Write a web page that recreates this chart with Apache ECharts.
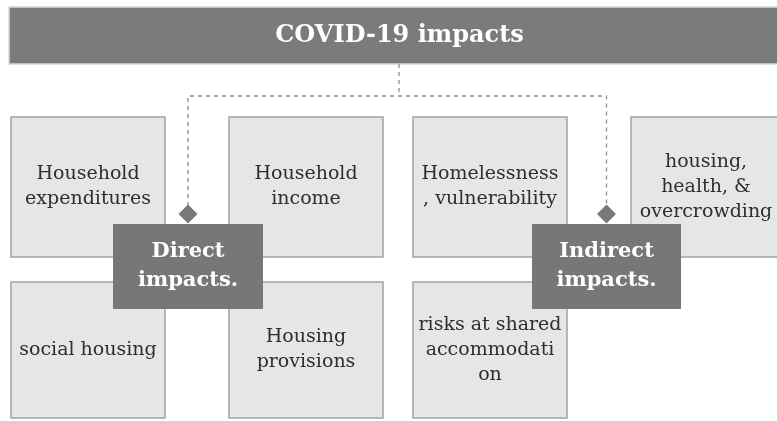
<!DOCTYPE html>
<html>
<head>
<meta charset="utf-8">
<script src="https://cdn.jsdelivr.net/npm/echarts@6/dist/echarts.min.js"></script>
<style>
  html, body { margin: 0; padding: 0; background: #fff; }
  #chart { width: 777px; height: 421px; }
</style>
</head>
<body>
<div id="chart"></div>
<script>
// texts of the diagram
const titleText = 'COVID-19 impacts';
const hubLabels = ['Direct\nimpacts.', 'Indirect\nimpacts.'];
const directLabels = ['Household\nexpenditures', 'Household\nincome', 'social housing', 'Housing\nprovisions'];
const indirectLabels = ['Homelessness\n, vulnerability', 'housing,\nhealth, &\novercrowding', 'risks at shared\naccommodati\non'];

// layout in axis units (axis spans the 777x421 canvas)
const colSpans = [[11, 165], [229, 383], [413, 567], [631, 781]];
const rowSpans = [[117, 257], [282, 418]];
const directCells = [[0, 0], [1, 0], [0, 1], [1, 1]];
const indirectCells = [[2, 0], [3, 0], [2, 1]];
const hubSpans = [[113, 263], [532, 681]];
const hubRow = [224, 309];
const bannerBox = [9, 7, 790, 64];
const busY = 96;
const diamondY = 214;

const serif = '"DejaVu Serif", "Liberation Serif", serif';

const topicLabels = directLabels.concat(indirectLabels);
const topicData = directCells.concat(indirectCells).map(function (c) {
  return [colSpans[c[0]][0], rowSpans[c[1]][0], colSpans[c[0]][1], rowSpans[c[1]][1]];
});
const hubData = hubSpans.map(function (s) { return [s[0], hubRow[0], s[1], hubRow[1]]; });
const hubCenters = hubSpans.map(function (s) { return (s[0] + s[1]) / 2; });
const titleCenter = 399;

function boxRenderer(labels, fill, stroke, textStyle) {
  return function (params, api) {
    const p0 = api.coord([api.value(0), api.value(1)]);
    const p1 = api.coord([api.value(2), api.value(3)]);
    return {
      type: 'rect',
      shape: { x: p0[0], y: p0[1], width: p1[0] - p0[0], height: p1[1] - p0[1] },
      style: { fill: fill, stroke: stroke, lineWidth: stroke ? 1.5 : 0 },
      textContent: {
        style: Object.assign({ text: labels[params.dataIndex], align: 'center', verticalAlign: 'middle' }, textStyle)
      },
      textConfig: { position: 'inside' }
    };
  };
}

const chart = echarts.init(document.getElementById('chart'));
chart.setOption({
  animation: false,
  grid: { left: 0, right: 0, top: 0, bottom: 0 },
  xAxis: { type: 'value', min: 0, max: 777, show: false },
  yAxis: { type: 'value', min: 0, max: 421, inverse: true, show: false },
  series: [
    {
      type: 'custom',
      name: 'banner',
      z: 2,
      data: [bannerBox],
      encode: { x: [0, 2], y: [1, 3] },
      renderItem: boxRenderer([titleText], '#7b7b7b', '#d8d8d8', {
        fill: '#fff', font: 'bold 24px ' + serif
      })
    },
    {
      type: 'lines',
      name: 'connectors',
      coordinateSystem: 'cartesian2d',
      polyline: true,
      z: 3,
      lineStyle: { color: '#8c8c8c', width: 1.3, type: [4, 4], opacity: 1 },
      data: [
        { coords: [[titleCenter, bannerBox[3]], [titleCenter, busY]] },
        { coords: [[hubCenters[0], diamondY], [hubCenters[0], busY], [hubCenters[1], busY], [hubCenters[1], diamondY]] }
      ]
    },
    {
      type: 'custom',
      name: 'topics',
      z: 4,
      data: topicData,
      encode: { x: [0, 2], y: [1, 3] },
      renderItem: boxRenderer(topicLabels, '#e6e6e6', '#a3a3a3', {
        fill: '#2e2e2e', font: '19px ' + serif, lineHeight: 25
      })
    },
    {
      type: 'custom',
      name: 'hubs',
      z: 5,
      data: hubData,
      encode: { x: [0, 2], y: [1, 3] },
      renderItem: boxRenderer(hubLabels, '#777777', null, {
        fill: '#fff', font: 'bold 21px ' + serif, lineHeight: 29
      })
    },
    {
      type: 'scatter',
      name: 'diamonds',
      z: 6,
      symbol: 'diamond',
      symbolSize: 19,
      itemStyle: { color: '#787878', opacity: 1 },
      data: hubCenters.map(function (x) { return [x, diamondY]; })
    }
  ]
});
</script>
</body>
</html>
